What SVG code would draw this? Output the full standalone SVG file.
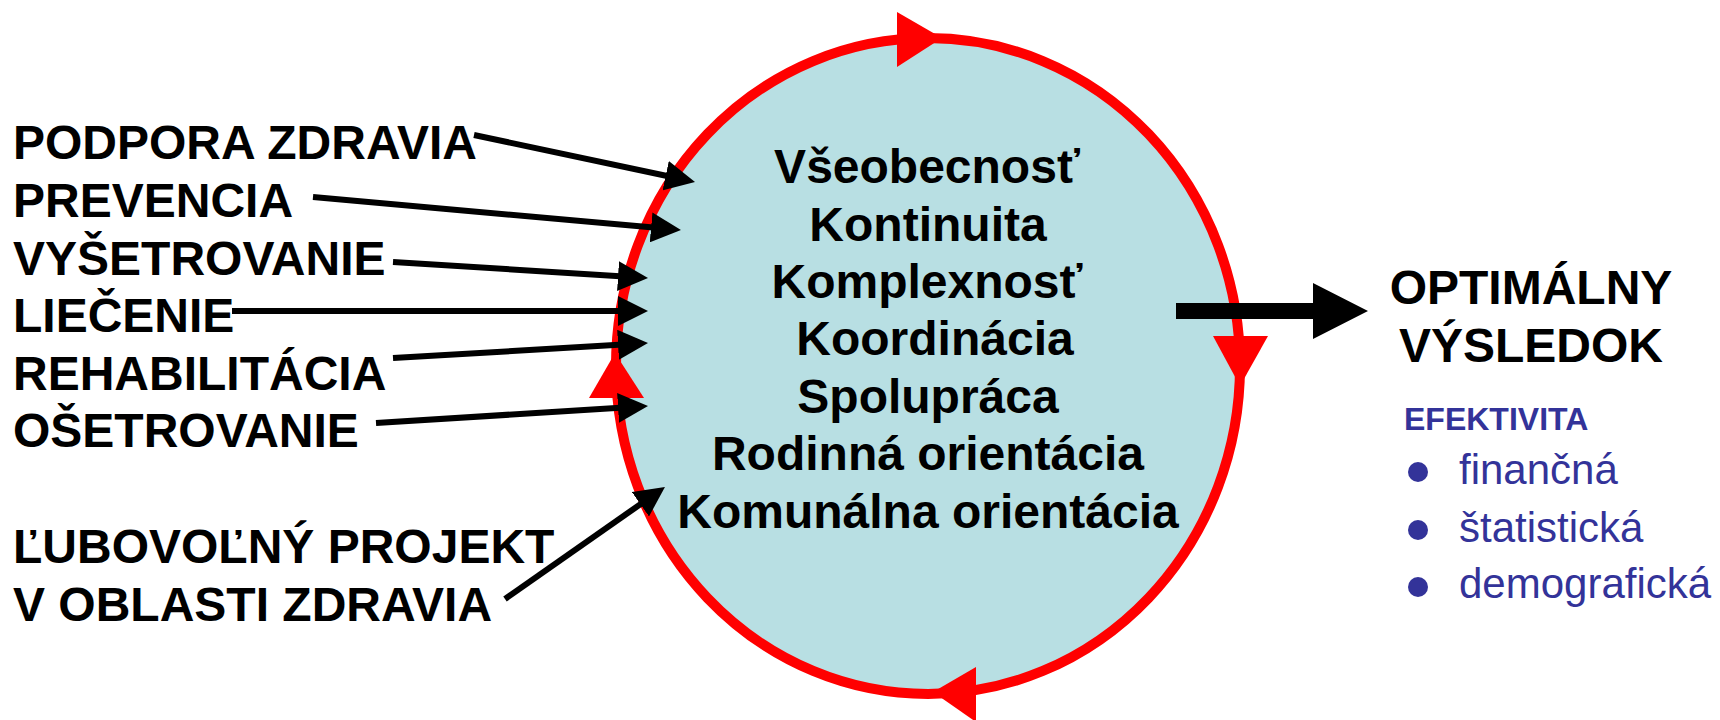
<svg xmlns="http://www.w3.org/2000/svg" width="1720" height="720" viewBox="0 0 1720 720">
<style>
.lbl{font-family:"Liberation Sans",Arial,sans-serif;font-weight:bold;font-size:48px;fill:#000}
.ctr{font-family:"Liberation Sans",Arial,sans-serif;font-weight:bold;font-size:48px;fill:#000;text-anchor:middle}
.eff{font-family:"Liberation Sans",Arial,sans-serif;font-weight:bold;font-size:32px;fill:#333399}
.item{font-family:"Liberation Sans",Arial,sans-serif;font-size:42px;fill:#333399}
.conn{stroke:#000;stroke-width:6;fill:none;marker-end:url(#ah)}
.red{fill:#ff0000}
</style>
<defs>
<marker id="ah" viewBox="0 0 30 30" markerWidth="30" markerHeight="30" markerUnits="userSpaceOnUse" refX="22" refY="15" orient="auto">
<path d="M0,0 L30,15 L0,30 z" fill="#000"/>
</marker>
</defs>
<rect width="1720" height="720" fill="#fff"/>
<g id="cycle">
<ellipse cx="928" cy="366" rx="312" ry="328" fill="#b8dfe3" stroke="#ff0000" stroke-width="10"/>
<polygon class="red" points="897,12 942,38 897,67"/>
<polygon class="red" points="1213,336 1268,336 1240,386"/>
<polygon class="red" points="976,667 976,722 933,692"/>
<polygon class="red" points="589,398 644,398 615,353"/>
<text class="ctr" x="927" y="183">Všeobecnosť</text>
<text class="ctr" x="928" y="241">Kontinuita</text>
<text class="ctr" x="927" y="298">Komplexnosť</text>
<text class="ctr" x="935" y="355">Koordinácia</text>
<text class="ctr" x="928" y="413">Spolupráca</text>
<text class="ctr" x="928" y="470">Rodinná orientácia</text>
<text class="ctr" x="928" y="528">Komunálna orientácia</text>
</g>
<g id="n-podpora"><text class="lbl" x="13" y="159">PODPORA ZDRAVIA</text></g>
<g id="n-prevencia"><text class="lbl" x="13" y="217">PREVENCIA</text></g>
<g id="n-vysetrovanie"><text class="lbl" x="13" y="275">VYŠETROVANIE</text></g>
<g id="n-liecenie"><text class="lbl" x="13" y="332">LIEČENIE</text></g>
<g id="n-rehabilitacia"><text class="lbl" x="13" y="390">REHABILITÁCIA</text></g>
<g id="n-osetrovanie"><text class="lbl" x="13" y="447">OŠETROVANIE</text></g>
<g id="n-projekt">
<text class="lbl" x="13" y="563">ĽUBOVOĽNÝ PROJEKT</text>
<text class="lbl" x="13" y="621">V OBLASTI ZDRAVIA</text>
</g>
<g id="n-vysledok">
<text class="ctr" x="1531" y="304">OPTIMÁLNY</text>
<text class="ctr" x="1531" y="362">VÝSLEDOK</text>
</g>
<g id="n-efektivita">
<text class="eff" x="1404" y="430">EFEKTIVITA</text>
<circle cx="1418" cy="472" r="10" fill="#333399"/>
<text class="item" x="1459" y="484">finančná</text>
<circle cx="1418" cy="530" r="10" fill="#333399"/>
<text class="item" x="1459" y="542">štatistická</text>
<circle cx="1418" cy="587" r="10" fill="#333399"/>
<text class="item" x="1459" y="598">demografická</text>
</g>
<g id="connectors">
<line class="conn" x1="474" y1="135" x2="687.2" y2="180.3"/>
<line class="conn" x1="313" y1="197" x2="673" y2="229.3"/>
<line class="conn" x1="393" y1="262" x2="640" y2="277.5"/>
<line class="conn" x1="232" y1="311" x2="640" y2="311"/>
<line class="conn" x1="393" y1="358" x2="640" y2="343.5"/>
<line class="conn" x1="376" y1="423" x2="640" y2="406.5"/>
<line class="conn" x1="505" y1="599" x2="658.4" y2="491.6"/>
<polygon points="1176,303 1313,303 1313,283 1368,311 1313,339 1313,319 1176,319" fill="#000"/>
</g>
</svg>
